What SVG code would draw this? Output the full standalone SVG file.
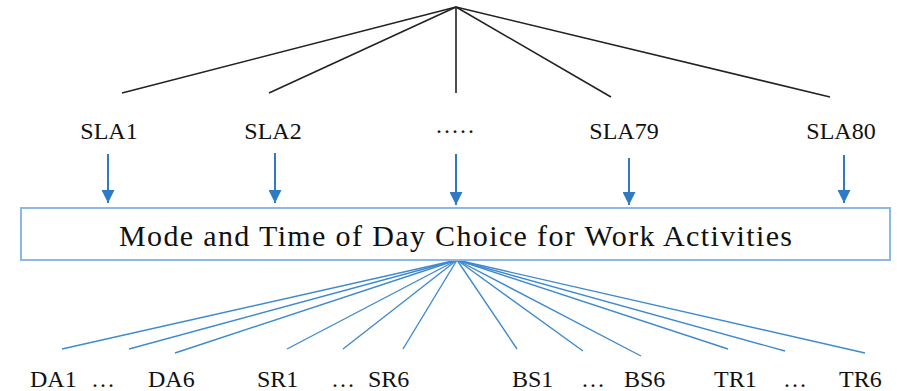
<svg xmlns="http://www.w3.org/2000/svg" width="897" height="391" viewBox="0 0 897 391">
<style>
text{font-family:"Liberation Serif","Times New Roman","DejaVu Serif",serif;fill:#111}
.lbl{font-size:24px;text-anchor:middle}
.bl{font-size:24px}
.title{font-size:30px}
.blk{stroke:#222;stroke-width:1.6;fill:none}
.arr{stroke:#2F7BC3;stroke-width:2;fill:none}
.fan{stroke:#3F8ACF;stroke-width:1.4;fill:none}
</style>
<defs>
<marker id="ah" viewBox="0 0 10 10" refX="10" refY="5" markerWidth="6.5" markerHeight="6.5" markerUnits="strokeWidth" orient="auto">
<path d="M0,0 L10,5 L0,10 Z" fill="#2F7BC3"/>
</marker>
</defs>
<g id="connectors">
<line class="blk" x1="456" y1="7" x2="122" y2="93"/>
<line class="blk" x1="456" y1="7" x2="269" y2="93"/>
<line class="blk" x1="456" y1="7" x2="456" y2="93"/>
<line class="blk" x1="456" y1="7" x2="611" y2="97"/>
<line class="blk" x1="456" y1="7" x2="830" y2="97"/>
<line class="arr" x1="108" y1="154" x2="108" y2="203" marker-end="url(#ah)"/>
<line class="arr" x1="275" y1="153" x2="275" y2="203" marker-end="url(#ah)"/>
<line class="arr" x1="456" y1="154" x2="456" y2="205" marker-end="url(#ah)"/>
<line class="arr" x1="629" y1="158" x2="629" y2="205" marker-end="url(#ah)"/>
<line class="arr" x1="844" y1="155" x2="844" y2="203" marker-end="url(#ah)"/>
<line class="fan" x1="457" y1="260" x2="62" y2="349"/>
<line class="fan" x1="457" y1="260" x2="129" y2="349"/>
<line class="fan" x1="457" y1="260" x2="175" y2="353"/>
<line class="fan" x1="457" y1="260" x2="287" y2="349"/>
<line class="fan" x1="457" y1="260" x2="343" y2="349"/>
<line class="fan" x1="457" y1="260" x2="403" y2="349"/>
<line class="fan" x1="457" y1="260" x2="517" y2="349"/>
<line class="fan" x1="457" y1="260" x2="583" y2="351"/>
<line class="fan" x1="457" y1="260" x2="641" y2="356"/>
<line class="fan" x1="457" y1="260" x2="728" y2="349"/>
<line class="fan" x1="457" y1="260" x2="785" y2="351"/>
<line class="fan" x1="457" y1="260" x2="865" y2="353"/>
</g>
<g id="sla1"><text class="lbl" x="109" y="139">SLA1</text></g>
<g id="sla2"><text class="lbl" x="273" y="139">SLA2</text></g>
<g id="sla-dots"><text class="lbl" x="456" y="133" letter-spacing="2">.....</text></g>
<g id="sla79"><text class="lbl" x="624" y="139">SLA79</text></g>
<g id="sla80"><text class="lbl" x="841" y="139">SLA80</text></g>
<g id="model">
<rect x="21" y="208" width="869" height="52" fill="#fff" stroke="#8DB8E3" stroke-width="2"/>
<text class="title" x="119" y="246" textLength="673" lengthAdjust="spacing">Mode and Time of Day Choice for Work Activities</text>
</g>
<g id="alts">
<text class="bl" x="30" y="387">DA1</text>
<text class="bl" x="91" y="387">…</text>
<text class="bl" x="148" y="387">DA6</text>
<text class="bl" x="257" y="387">SR1</text>
<text class="bl" x="331" y="387">…</text>
<text class="bl" x="368" y="387">SR6</text>
<text class="bl" x="512" y="387">BS1</text>
<text class="bl" x="581" y="387">…</text>
<text class="bl" x="624" y="387">BS6</text>
<text class="bl" x="714" y="387">TR1</text>
<text class="bl" x="783" y="387">…</text>
<text class="bl" x="839" y="387">TR6</text>
</g>
</svg>
